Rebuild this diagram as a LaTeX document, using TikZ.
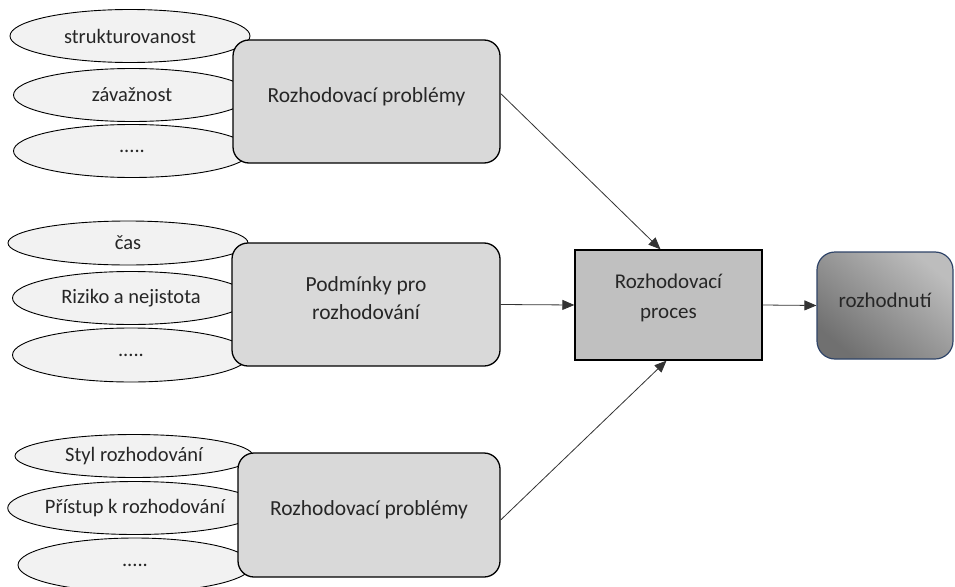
\documentclass[tikz,border=0pt]{standalone}
\usepackage{fontspec}
\setmainfont{Carlito}
\usetikzlibrary{shapes.geometric,arrows.meta,calc}
\definecolor{ellfill}{HTML}{F2F2F2}
\definecolor{boxfill}{HTML}{D9D9D9}
\definecolor{procfill}{HTML}{C0C0C0}
\definecolor{rozborder}{HTML}{2F4468}
\definecolor{rozlight}{HTML}{BDBDBD}
\definecolor{rozdark}{HTML}{707070}
\tikzset{
  ell/.style={ellipse, draw=black, line width=0.9pt, fill=ellfill, inner sep=0pt,
    font=\fontsize{20.5}{23}\selectfont, text=black!85},
  grp/.style={rectangle, rounded corners=16pt, draw=black, line width=1.3pt, fill=boxfill,
    inner sep=0pt, align=center, font=\fontsize{21.5}{28}\selectfont, text=black!85,
    text depth=13pt},
  proc/.style={rectangle, draw=black, line width=1.3pt, fill=procfill, inner sep=0pt,
    align=center, font=\fontsize{21}{30}\selectfont, text=black!85, text depth=18pt},
  roz/.style={rectangle, rounded corners=18pt, draw=rozborder, line width=1.2pt,
    top color=rozlight, bottom color=rozdark, shading angle=-40, inner sep=0pt,
    font=\fontsize{21}{24}\selectfont, text=black!85, text depth=11pt},
  conn/.style={-{Triangle[length=12pt,width=10pt]}, line width=0.8pt, draw=black!80}
}
\begin{document}
\begin{tikzpicture}[x=1pt,y=-1pt]
\useasboundingbox (0,0) rectangle (955,586);
% group 1 ellipses
\node[ell, minimum width=240pt, minimum height=53pt] (e11) at (130,36) {strukturovanost};
\node[ell, minimum width=237pt, minimum height=53pt] (e12) at (132,95) {závažnost};
\node[ell, minimum width=237pt, minimum height=53pt] (e13) at (132,151) {.....};
% group 2 ellipses
\node[ell, minimum width=240pt, minimum height=44pt] (e21) at (128,243) {čas};
\node[ell, minimum width=237pt, minimum height=53pt] (e22) at (131,298) {Riziko a nejistota};
\node[ell, minimum width=237pt, minimum height=54pt] (e23) at (131,355) {.....};
% group 3 ellipses
\node[ell, minimum width=238pt, minimum height=43pt] (e31) at (134,456) {Styl rozhodování};
\node[ell, minimum width=234pt, minimum height=53pt] (e32) at (135,508) {Přístup k rozhodování};
\node[ell, minimum width=234pt, minimum height=54pt] (e33) at (135,565) {.....};
% group boxes
\node[grp, minimum width=267pt, minimum height=123pt] (b1) at (366.5,101.5) {Rozhodovací problémy};
\node[grp, minimum width=268pt, minimum height=123pt] (b2) at (366,304.5) {Podmínky pro\\rozhodování};
\node[grp, minimum width=262pt, minimum height=124pt] (b3) at (369,515) {Rozhodovací problémy};
% process
\node[proc, minimum width=187pt, minimum height=110pt] (p) at (668.5,305) {Rozhodovací\\proces};
% decision
\node[roz, minimum width=136pt, minimum height=107pt] (r) at (885,305.5) {rozhodnutí};
% connectors
\draw[conn] ($(b1.east)+(0,-8)$) -- ($(p.north)+(-8,0)$);
\draw[conn] (b2.east) -- (p.west);
\draw[conn] ($(b3.east)+(0,5)$) -- ($(p.south)+(-2,0)$);
\draw[conn] (p.east) -- (r.west);
\end{tikzpicture}
\end{document}
